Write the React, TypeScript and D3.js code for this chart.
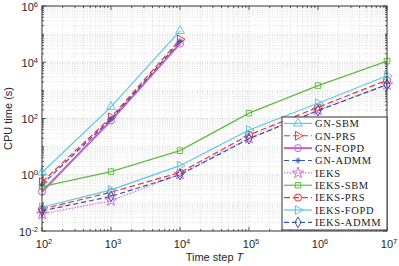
import { useEffect, useRef } from 'react';
import * as d3 from 'd3';

// time steps and measured CPU times (s)
const gnSteps = [1e2, 1e3, 1e4];
const ieksSteps = [1e2, 1e3, 1e4, 1e5, 1e6, 1e7];

const gnSBM = [1.2, 260, 1.3e5];
const gnPRS = [0.55, 110, 6.5e4];
const gnFOPD = [0.25, 85, 4.6e4];
const gnADMM = [0.45, 95, 5.5e4];
const ieks = [0.04, 0.12, 1.05, 20, 200, 1600];
const ieksSBM = [0.38, 1.3, 7.2, 155, 1480, 1.1e4];
const ieksPRS = [0.06, 0.24, 1.2, 26, 250, 2300];
const ieksFOPD = [0.07, 0.29, 2.1, 39, 350, 3300];
const ieksADMM = [0.052, 0.17, 1.0, 19, 190, 1600];

const xTicks = [1e2, 1e3, 1e4, 1e5, 1e6, 1e7];
const yTicks = [1e-2, 1e0, 1e2, 1e4, 1e6];

type Marker = 'triUp' | 'triRight' | 'circle' | 'asterisk' | 'star' | 'square' | 'diamond';

interface Series {
  name: string;
  steps: number[];
  values: number[];
  color: string;
  dash: string | null;
  width: number;
  marker: Marker;
}

const CYAN = '#5cc8e4';
const RED = '#ee3434';
const MAGENTA = '#c262c2';
const BLUE = '#3a52b0';
const GREEN = '#5ebd3c';

const series: Series[] = [
  { name: 'GN-SBM', steps: gnSteps, values: gnSBM, color: CYAN, dash: null, width: 1.2, marker: 'triUp' },
  { name: 'GN-PRS', steps: gnSteps, values: gnPRS, color: RED, dash: '6,3', width: 1.2, marker: 'triRight' },
  { name: 'GN-FOPD', steps: gnSteps, values: gnFOPD, color: MAGENTA, dash: null, width: 2, marker: 'circle' },
  { name: 'GN-ADMM', steps: gnSteps, values: gnADMM, color: BLUE, dash: '5,3', width: 1.2, marker: 'asterisk' },
  { name: 'IEKS', steps: ieksSteps, values: ieks, color: '#d070d0', dash: '1.5,1.5', width: 1.2, marker: 'star' },
  { name: 'IEKS-SBM', steps: ieksSteps, values: ieksSBM, color: GREEN, dash: null, width: 1.2, marker: 'square' },
  { name: 'IEKS-PRS', steps: ieksSteps, values: ieksPRS, color: RED, dash: '6,3', width: 1.2, marker: 'circle' },
  { name: 'IEKS-FOPD', steps: ieksSteps, values: ieksFOPD, color: CYAN, dash: null, width: 1.2, marker: 'triRight' },
  { name: 'IEKS-ADMM', steps: ieksSteps, values: ieksADMM, color: BLUE, dash: '5,3', width: 1.2, marker: 'diamond' }
];

function markerPath(m: Marker): string {
  switch (m) {
    case 'triUp':
    case 'triRight':
      return d3.symbol(d3.symbolTriangle, 34)() ?? '';
    case 'circle':
      return d3.symbol(d3.symbolCircle, 40)() ?? '';
    case 'square':
      return d3.symbol(d3.symbolSquare, 30)() ?? '';
    case 'diamond':
      return d3.symbol(d3.symbolDiamond, 32)() ?? '';
    case 'star':
      return d3.symbol(d3.symbolStar, 40)() ?? '';
    case 'asterisk':
      return 'M-3,0H3M0,-3V3M-2.1,-2.1L2.1,2.1M-2.1,2.1L2.1,-2.1';
  }
}

export default function App() {
  const svgRef = useRef<SVGSVGElement | null>(null);

  useEffect(() => {
    const el = svgRef.current;
    if (!el) return;
    const width = 399;
    const height = 266;
    const left = 42, top = 6, right = 387, bottom = 231;
    const svg = d3.select(el);
    svg.selectAll('*').remove();

    const x = d3.scaleLog().domain([1e2, 1e7]).range([left, right]);
    const y = d3.scaleLog().domain([1e-2, 1e6]).range([bottom, top]);

    svg.append('rect').attr('width', width).attr('height', height).attr('fill', '#fff');

    // grid (major + minor)
    const xMinor: number[] = [];
    for (let e = 2; e < 7; e++) for (let k = 1; k < 10; k++) xMinor.push(k * 10 ** e);
    const yMinor: number[] = [];
    for (let e = -2; e < 6; e++) for (let k = 1; k < 10; k++) yMinor.push(k * 10 ** e);

    const grid = svg.append('g');
    grid.selectAll('line.gx').data(xMinor.filter((v) => v > 1e2)).join('line')
      .attr('x1', (d) => x(d)).attr('x2', (d) => x(d)).attr('y1', top).attr('y2', bottom)
      .attr('stroke', (d) => (xTicks.includes(d) ? '#b8b8b8' : '#d4d4d4'))
      .attr('stroke-width', 0.7).attr('stroke-dasharray', '1,1.5');
    grid.selectAll('line.gy').data(yMinor.filter((v) => v > 1e-2)).join('line')
      .attr('y1', (d) => y(d)).attr('y2', (d) => y(d)).attr('x1', left).attr('x2', right)
      .attr('stroke', (d) => (yTicks.includes(d) ? '#b8b8b8' : '#d4d4d4'))
      .attr('stroke-width', 0.7).attr('stroke-dasharray', '1,1.5');

    // ticks inside the box
    const axisColor = '#333';
    const tk = svg.append('g').attr('stroke', axisColor).attr('stroke-width', 0.8);
    xMinor.concat([1e7]).forEach((v) => {
      const len = xTicks.includes(v) ? 4 : 2;
      tk.append('line').attr('x1', x(v)).attr('x2', x(v)).attr('y1', bottom).attr('y2', bottom - len);
      tk.append('line').attr('x1', x(v)).attr('x2', x(v)).attr('y1', top).attr('y2', top + len);
    });
    yMinor.concat([1e6]).forEach((v) => {
      const len = yTicks.includes(v) ? 4 : 2;
      tk.append('line').attr('y1', y(v)).attr('y2', y(v)).attr('x1', left).attr('x2', left + len);
      tk.append('line').attr('y1', y(v)).attr('y2', y(v)).attr('x1', right).attr('x2', right - len);
    });

    // series
    const line = d3.line<[number, number]>().x((d) => x(d[0])).y((d) => y(d[1]));
    series.forEach((s) => {
      const pts = s.steps.map((t, i) => [t, s.values[i]] as [number, number]);
      const g = svg.append('g');
      g.append('path').attr('d', line(pts)).attr('fill', 'none')
        .attr('stroke', s.color).attr('stroke-width', s.width)
        .attr('stroke-dasharray', s.dash ?? null);
      g.selectAll('path.m').data(pts).join('path').attr('class', 'm')
        .attr('d', markerPath(s.marker))
        .attr('transform', (d) => `translate(${x(d[0])},${y(d[1])})${s.marker === 'triRight' ? ' rotate(90)' : ''}`)
        .attr('fill', 'none').attr('stroke', s.color).attr('stroke-width', 1);
    });

    // box
    svg.append('rect').attr('x', left).attr('y', top).attr('width', right - left).attr('height', bottom - top)
      .attr('fill', 'none').attr('stroke', axisColor).attr('stroke-width', 1);

    const sans = 'Liberation Sans, Arial, sans-serif';
    // tick labels
    yTicks.forEach((v) => {
      const t = svg.append('text').attr('x', 38).attr('y', y(v) + 4.5).attr('text-anchor', 'end')
        .attr('font-family', sans).attr('font-size', 11).attr('fill', '#262626');
      t.append('tspan').text('10');
      t.append('tspan').attr('dy', -4).attr('font-size', 7.5).text(String(Math.round(Math.log10(v))));
    });
    xTicks.forEach((v) => {
      const t = svg.append('text').attr('x', x(v) + 2).attr('y', 248).attr('text-anchor', 'middle')
        .attr('font-family', sans).attr('font-size', 11).attr('fill', '#262626');
      t.append('tspan').text('10');
      t.append('tspan').attr('dy', -4).attr('font-size', 7.5).text(String(Math.round(Math.log10(v))));
    });

    // axis labels
    const xl = svg.append('text').attr('x', (left + right) / 2).attr('y', 261).attr('text-anchor', 'middle')
      .attr('font-family', sans).attr('font-size', 11).attr('fill', '#262626');
    xl.append('tspan').text('Time step ');
    xl.append('tspan').attr('font-style', 'italic').text('T');
    svg.append('text').attr('transform', `translate(12,${(top + bottom) / 2}) rotate(-90)`)
      .attr('text-anchor', 'middle').attr('font-family', sans).attr('font-size', 11).attr('fill', '#262626')
      .text('CPU time (s)');

    // legend
    const lx = 282, ly = 117, lw = right - lx, lh = 113;
    const leg = svg.append('g');
    leg.append('rect').attr('x', lx).attr('y', ly).attr('width', lw).attr('height', lh)
      .attr('fill', '#fff').attr('stroke', axisColor).attr('stroke-width', 1);
    series.forEach((s, i) => {
      const cy = 123.4 + i * 12.37;
      leg.append('line').attr('x1', 284).attr('x2', 312).attr('y1', cy).attr('y2', cy)
        .attr('stroke', s.color).attr('stroke-width', s.width).attr('stroke-dasharray', s.dash ?? null);
      leg.append('path').attr('d', markerPath(s.marker))
        .attr('transform', `translate(298,${cy})${s.marker === 'triRight' ? ' rotate(90)' : ''}`)
        .attr('fill', 'none').attr('stroke', s.color).attr('stroke-width', 1);
      leg.append('text').attr('x', 315).attr('y', cy + 3.8).attr('font-family', 'Liberation Serif, Times New Roman, serif')
        .attr('font-size', 10.5).attr('letter-spacing', 0.6).attr('fill', '#1a1a1a').text(s.name);
    });
  }, []);

  return (
    <svg ref={svgRef} width={399} height={266} style={{ position: 'absolute', left: 0, top: 0 }} />
  );
}
